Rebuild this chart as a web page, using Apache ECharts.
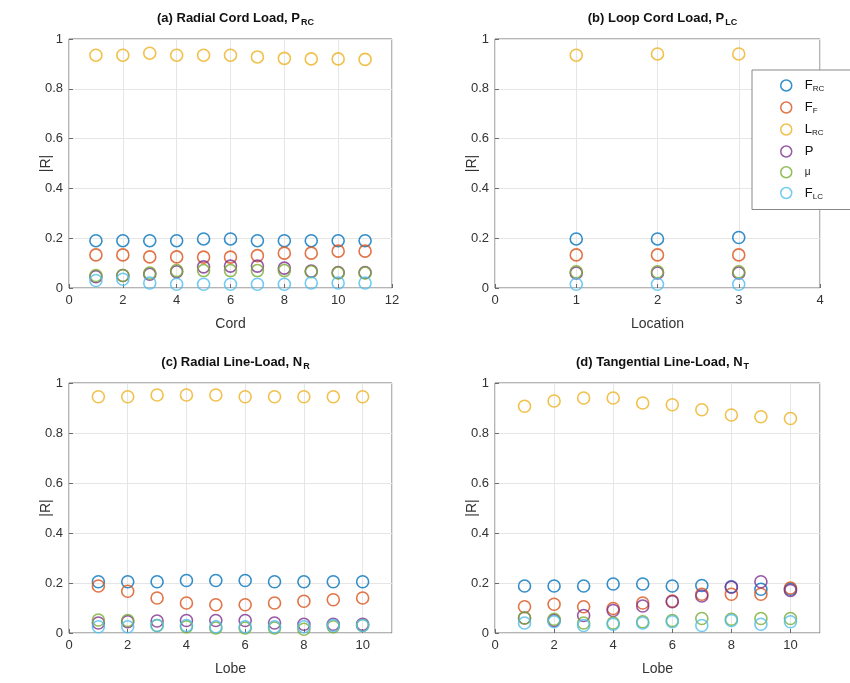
<!DOCTYPE html>
<html>
<head>
<meta charset="utf-8">
<script src="https://cdn.jsdelivr.net/npm/echarts@6/dist/echarts.min.js"></script>
<style>
  html, body { margin: 0; padding: 0; background: #fff; }
  #chart { width: 850px; height: 683px; }
</style>
</head>
<body>
<div id="chart"></div>
<script>
// x positions
const cord = [1, 2, 3, 4, 5, 6, 7, 8, 9, 10, 11]
const loopLocation = [1, 2, 3]
const lobe = [1, 2, 3, 4, 5, 6, 7, 8, 9, 10]

// (a) radial cord load
const aFRC = [0.19, 0.19, 0.19, 0.19, 0.197, 0.197, 0.19, 0.19, 0.19, 0.19, 0.19]
const aFF = [0.133, 0.133, 0.125, 0.125, 0.124, 0.124, 0.13, 0.14, 0.14, 0.148, 0.148]
const aLRC = [0.935, 0.935, 0.943, 0.935, 0.935, 0.935, 0.928, 0.922, 0.92, 0.92, 0.918]
const aP = [0.045, 0.05, 0.055, 0.065, 0.085, 0.088, 0.088, 0.08, 0.068, 0.062, 0.062]
const aMu = [0.05, 0.05, 0.06, 0.07, 0.07, 0.07, 0.07, 0.07, 0.065, 0.06, 0.06]
const aFLC = [0.03, 0.035, 0.02, 0.015, 0.015, 0.015, 0.015, 0.015, 0.02, 0.02, 0.02]

// (b) loop cord load
const bFRC = [0.197, 0.197, 0.203]
const bFF = [0.133, 0.133, 0.133]
const bLRC = [0.935, 0.94, 0.94]
const bP = [0.06, 0.06, 0.06]
const bMu = [0.065, 0.065, 0.065]
const bFLC = [0.015, 0.015, 0.015]

// (c) radial line-load
const cFRC = [0.205, 0.205, 0.205, 0.21, 0.21, 0.21, 0.205, 0.205, 0.205, 0.205]
const cFF = [0.188, 0.167, 0.14, 0.12, 0.113, 0.113, 0.12, 0.127, 0.133, 0.14]
const cLRC = [0.945, 0.945, 0.952, 0.952, 0.952, 0.945, 0.945, 0.945, 0.945, 0.945]
const cP = [0.04, 0.045, 0.048, 0.05, 0.05, 0.05, 0.04, 0.035, 0.035, 0.035]
const cMu = [0.052, 0.05, 0.03, 0.025, 0.02, 0.02, 0.02, 0.015, 0.025, 0.03]
const cFLC = [0.025, 0.025, 0.03, 0.03, 0.025, 0.025, 0.025, 0.025, 0.03, 0.03]

// (d) tangential line-load
const dFRC = [0.188, 0.188, 0.188, 0.196, 0.196, 0.188, 0.19, 0.185, 0.175, 0.175]
const dFF = [0.105, 0.115, 0.105, 0.098, 0.12, 0.128, 0.155, 0.155, 0.155, 0.18]
const dLRC = [0.907, 0.928, 0.94, 0.94, 0.92, 0.913, 0.893, 0.872, 0.865, 0.858]
const dP = [0.06, 0.05, 0.07, 0.09, 0.108, 0.125, 0.148, 0.183, 0.205, 0.17]
const dMu = [0.06, 0.055, 0.04, 0.04, 0.045, 0.05, 0.058, 0.055, 0.058, 0.058]
const dFLC = [0.04, 0.045, 0.03, 0.035, 0.04, 0.045, 0.03, 0.05, 0.035, 0.045]

const names = ['FRC', 'FF', 'LRC', 'P', 'mu', 'FLC']
const colors = ['#0072BD', '#D95319', '#EDB120', '#7E2F8E', '#77AC30', '#4DBEEE']
const legendText = {
  FRC: '{m|F}{s|RC}',
  FF: '{m|F}{s|F}',
  LRC: '{m|L}{s|RC}',
  P: '{m|P}',
  mu: '{g|μ}',
  FLC: '{m|F}{s|LC}',
}

const panels = [
  { title: '(a) Radial Cord Load, P', sub: 'RC', xName: 'Cord', x: cord, max: 12, interval: 2,
    ys: [aFRC, aFF, aLRC, aP, aMu, aFLC], grid: { left: 69, top: 39, width: 323, height: 249 } },
  { title: '(b) Loop Cord Load, P', sub: 'LC', xName: 'Location', x: loopLocation, max: 4, interval: 1,
    ys: [bFRC, bFF, bLRC, bP, bMu, bFLC], grid: { left: 495, top: 39, width: 325, height: 249 } },
  { title: '(c) Radial Line-Load, N', sub: 'R', xName: 'Lobe', x: lobe, max: 11, interval: 2,
    ys: [cFRC, cFF, cLRC, cP, cMu, cFLC], grid: { left: 69, top: 383, width: 323, height: 250 } },
  { title: '(d) Tangential Line-Load, N', sub: 'T', xName: 'Lobe', x: lobe, max: 11, interval: 2,
    ys: [dFRC, dFF, dLRC, dP, dMu, dFLC], grid: { left: 495, top: 383, width: 325, height: 250 } },
]

const font = '"Liberation Sans", Arial, sans-serif'
const axisColor = '#6b6b6b'
const textColor = '#333'

const grid = []
const xAxis = []
const yAxis = []
const title = []
const series = []

panels.forEach((p, i) => {
  grid.push({ ...p.grid, show: true, borderColor: axisColor, borderWidth: 1, backgroundColor: '#fff' })
  title.push({
    text: '{t|' + p.title + '}{s|' + p.sub + '}',
    left: p.grid.left + p.grid.width / 2,
    top: p.grid.top - 35,
    textAlign: 'center',
    textStyle: {
      rich: {
        t: { fontFamily: font, fontSize: 13, fontWeight: 'bold', color: '#111', lineHeight: 18 },
        s: { fontFamily: font, fontSize: 9, fontWeight: 'bold', color: '#111', verticalAlign: 'bottom', padding: [9, 0, 0, 1] },
      },
    },
  })
  xAxis.push({
    type: 'value', gridIndex: i, min: 0, max: p.max, interval: p.interval,
    name: p.xName, nameLocation: 'middle', nameGap: 29, nameMoveOverlap: false,
    nameTextStyle: { fontFamily: font, fontSize: 14, color: textColor },
    axisLine: { show: false },
    axisTick: { inside: true, length: 4, lineStyle: { color: axisColor } },
    axisLabel: { fontFamily: font, fontSize: 13, color: textColor, margin: 6,
      showMaxLabel: p.max % p.interval === 0, showMinLabel: true },
    splitLine: { show: true, lineStyle: { color: '#e6e6e6', width: 1 } },
  })
  yAxis.push({
    type: 'value', gridIndex: i, min: 0, max: 1, interval: 0.2,
    name: '|R|', nameLocation: 'middle', nameGap: 16, nameMoveOverlap: false,
    nameTextStyle: { fontFamily: font, fontSize: 14, color: textColor },
    axisLine: { show: false },
    axisTick: { inside: true, length: 4, lineStyle: { color: axisColor } },
    axisLabel: { fontFamily: font, fontSize: 13, color: textColor, margin: 6 },
    splitLine: { show: true, lineStyle: { color: '#e6e6e6', width: 1 } },
  })
  names.forEach((n, k) => {
    series.push({
      name: n,
      type: 'scatter',
      xAxisIndex: i,
      yAxisIndex: i,
      symbol: 'circle',
      symbolSize: 12,
      itemStyle: { color: 'rgba(255,255,255,0)', borderColor: colors[k], borderWidth: 1.6 },
      emphasis: { disabled: true },
      data: p.x.map((x, j) => [x, p.ys[k][j]]),
    })
  })
})

const chart = echarts.init(document.getElementById('chart'))
chart.setOption({
  backgroundColor: '#fff',
  animation: false,
  title,
  grid,
  xAxis,
  yAxis,
  legend: {
    orient: 'vertical',
    left: 752,
    top: 70,
    padding: [9, 40, 9, 28],
    itemGap: 8,
    itemWidth: 11,
    itemHeight: 11,
    backgroundColor: '#fff',
    borderColor: '#888',
    borderWidth: 1,
    borderRadius: 0,
    data: names.map((n, k) => ({
      name: n,
      icon: 'circle',
      itemStyle: { color: '#fff', borderColor: colors[k], borderWidth: 1.5 },
    })),
    formatter: (n) => legendText[n],
    textStyle: {
      rich: {
        m: { fontFamily: font, fontSize: 13, color: '#111', lineHeight: 14, padding: [0, 0, 0, 8] },
        s: { fontFamily: font, fontSize: 8, color: '#111', verticalAlign: 'bottom', padding: [7, 0, 0, 0] },
        g: { fontFamily: font, fontSize: 10, color: '#111', lineHeight: 14, padding: [0, 0, 0, 8] },
      },
    },
  },
  series,
})
</script>
</body>
</html>
